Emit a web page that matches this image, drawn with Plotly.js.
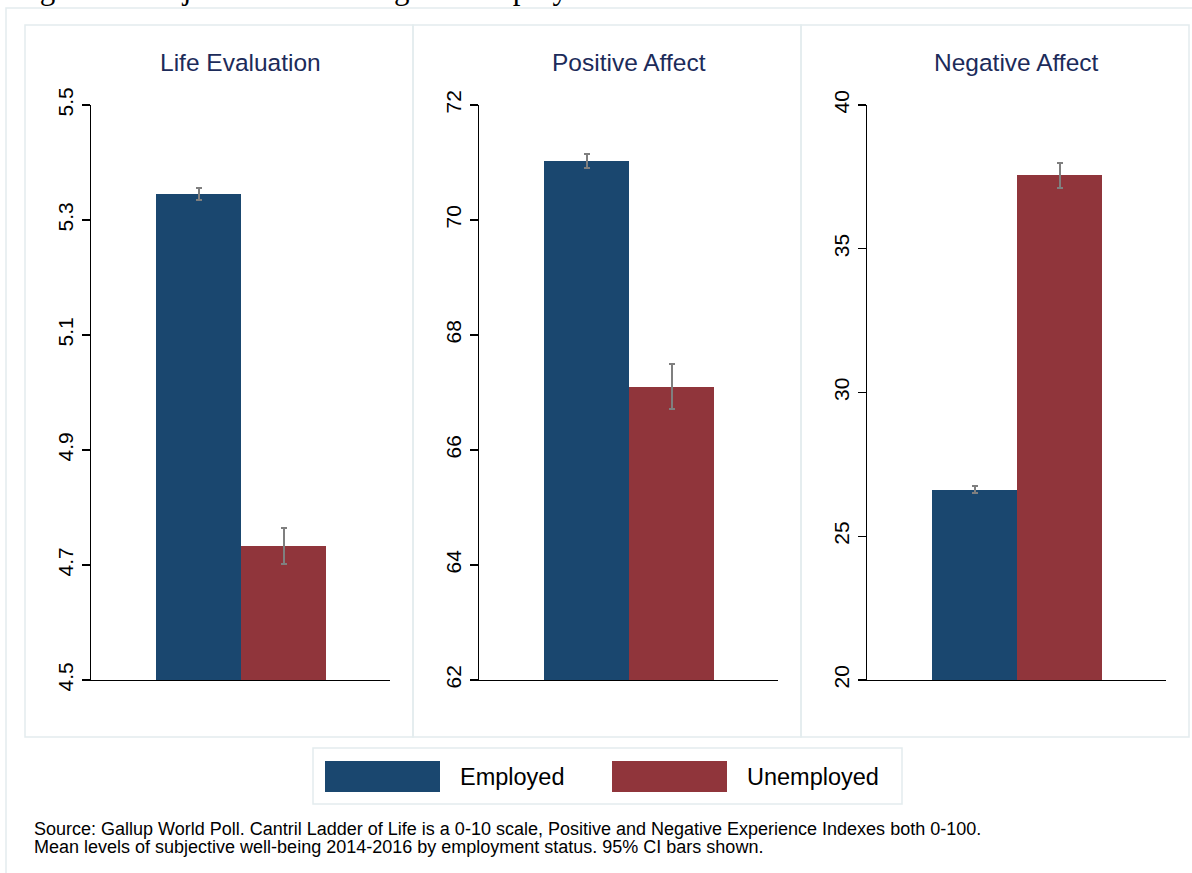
<!DOCTYPE html>
<html>
<head>
<meta charset="utf-8">
<script src="https://cdn.plot.ly/plotly-3.0.1.min.js"></script>
<style>
  html, body { margin: 0; padding: 0; background: #ffffff; overflow: hidden; }
  #wrap { position: relative; width: 1192px; height: 873px; }
  #chart { position: absolute; left: 0; top: 0; width: 1192px; height: 873px; }
  #hdr { position: absolute; left: 14px; top: -27px; font-family: "Liberation Serif", "Times New Roman", serif; font-size: 31px; line-height: 31px; color: #000; white-space: nowrap; z-index: 2; }
</style>
</head>
<body>
<div id="wrap">
  <div id="chart"></div>
  <div id="hdr">Figure 7: Subjective Well-being and Employment</div>
</div>
<script>
// ---- data ----
const panelTitles = ['Life Evaluation', 'Positive Affect', 'Negative Affect'];
const groupNames = ['Employed', 'Unemployed'];
const employedMean = [5.345, 71.02, 26.62];
const unemployedMean = [4.733, 67.10, 37.56];
const employedCI = [0.010, 0.12, 0.12];
const unemployedCI = [0.031, 0.39, 0.44];
const yTickVals = [[4.5, 4.7, 4.9, 5.1, 5.3, 5.5], [62, 64, 66, 68, 70, 72], [20, 25, 30, 35, 40]];
const yTickText = [['4.5', '4.7', '4.9', '5.1', '5.3', '5.5'], ['62', '64', '66', '68', '70', '72'], ['20', '25', '30', '35', '40']];
const yRanges = [[4.5, 5.5], [62, 72], [20, 40]];
const sourceNote = ['Source: Gallup World Poll. Cantril Ladder of Life is a 0-10 scale, Positive and Negative Experience Indexes both 0-100.',
                    'Mean levels of subjective well-being 2014-2016 by employment status. 95% CI bars shown.'];

// ---- styling / layout helpers ----
const W = 1192, H = 873;
const px = x => x / W;
const py = y => 1 - y / H;
const colors = ['#1a476f', '#90353b'];
const font = '"Liberation Sans", Arial, Helvetica, sans-serif';
const panelLeft = [25, 413, 801];
const panelStep = 388;
const axLeft = 91, axRight = 390;   // panel 1 plot area (pixels)
const axTop = 105, axBottom = 680;

const traces = [];
const layout = {
  width: W, height: H,
  margin: {l: 0, r: 0, t: 0, b: 0},
  paper_bgcolor: '#ffffff',
  plot_bgcolor: 'rgba(0,0,0,0)',
  showlegend: false,
  bargap: 0,
  shapes: [],
  annotations: []
};

const means = [employedMean, unemployedMean];
const cis = [employedCI, unemployedCI];

for (let p = 0; p < 3; p++) {
  const sfx = p === 0 ? '' : String(p + 1);
  for (let g = 0; g < 2; g++) {
    traces.push({
      type: 'bar',
      x: [g],
      y: [means[g][p] - yRanges[p][0]],
      base: yRanges[p][0],
      width: [1],
      name: groupNames[g],
      marker: {color: colors[g], line: {color: colors[g], width: 0}},
      error_y: {type: 'data', array: [cis[g][p]], visible: true, color: '#7f7f7f', thickness: 2, width: 3},
      xaxis: 'x' + sfx, yaxis: 'y' + sfx,
      hoverinfo: 'skip'
    });
  }

  const off = p * panelStep;
  layout['xaxis' + sfx] = {
    domain: [px(axLeft + off), px(axRight + off)],
    range: [-0.5 - 65 / 85, 1.5 + 64 / 85],
    showticklabels: false, ticks: '', showgrid: false, zeroline: false,
    showline: true, linecolor: '#000000', linewidth: 1.3,
    anchor: 'y' + sfx, fixedrange: true
  };
  layout['yaxis' + sfx] = {
    domain: [py(axBottom), py(axTop)],
    range: yRanges[p],
    tickvals: yTickVals[p], ticktext: yTickText[p],
    tickangle: -90,
    ticks: 'outside', ticklen: 8, tickwidth: 1.3, tickcolor: '#000000',
    tickfont: {family: font, size: 21, color: '#000000'},
    showgrid: false, zeroline: false,
    showline: true, linecolor: '#000000', linewidth: 1.3,
    anchor: 'x' + sfx, fixedrange: true
  };
  // panel frame
  layout.shapes.push({type: 'rect', xref: 'paper', yref: 'paper',
    x0: px(panelLeft[p]), x1: px(panelLeft[p] + panelStep), y0: py(737), y1: py(25),
    line: {color: '#e3ecee', width: 1.5}, fillcolor: 'rgba(0,0,0,0)', layer: 'below'});
  // panel title
  layout.annotations.push({xref: 'paper', yref: 'paper',
    x: px((axLeft + axRight) / 2 + off), y: py(63), xanchor: 'center', yanchor: 'middle',
    text: panelTitles[p], showarrow: false,
    font: {family: font, size: 24.5, color: '#1c2b5a'}});
}

// outer frame
layout.shapes.push({type: 'rect', xref: 'paper', yref: 'paper',
  x0: px(6), x1: px(1205), y0: py(890), y1: py(8),
  line: {color: '#e3ecee', width: 1.5}, fillcolor: 'rgba(0,0,0,0)', layer: 'below'});
// legend box
layout.shapes.push({type: 'rect', xref: 'paper', yref: 'paper',
  x0: px(313), x1: px(902), y0: py(804), y1: py(748),
  line: {color: '#e3ecee', width: 1.5}, fillcolor: '#ffffff', layer: 'below'});
const swX = [325, 612];
const txX = [458, 745];
for (let g = 0; g < 2; g++) {
  layout.shapes.push({type: 'rect', xref: 'paper', yref: 'paper',
    x0: px(swX[g]), x1: px(swX[g] + 115), y0: py(792), y1: py(761),
    line: {color: colors[g], width: 0}, fillcolor: colors[g]});
  layout.annotations.push({xref: 'paper', yref: 'paper',
    x: px(txX[g]), y: py(777), xanchor: 'left', yanchor: 'middle',
    text: groupNames[g], showarrow: false,
    font: {family: font, size: 23.5, color: '#000000'}});
}
// source note
sourceNote.forEach((t, i) => {
  layout.annotations.push({xref: 'paper', yref: 'paper',
    x: px(32), y: py(829 + 18 * i), xanchor: 'left', yanchor: 'middle',
    text: t, showarrow: false,
    font: {family: font, size: 18, color: '#000000'}});
});

Plotly.newPlot('chart', traces, layout, {displayModeBar: false, staticPlot: true});
</script>
</body>
</html>
